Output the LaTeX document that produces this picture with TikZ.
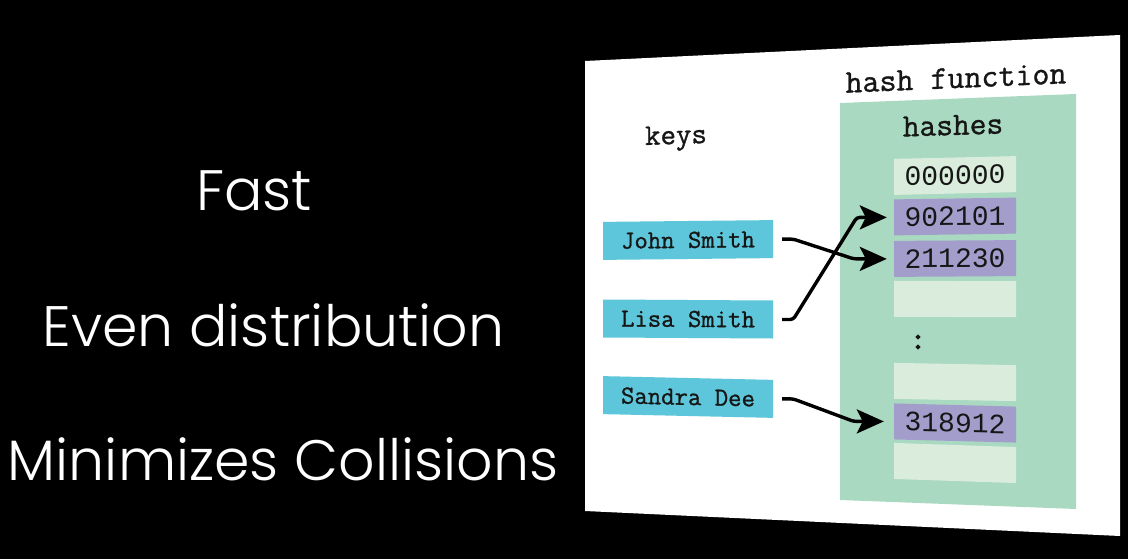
\documentclass[tikz,border=0pt]{standalone}
\usepackage{fontspec}
\usetikzlibrary{arrows.meta}
\newfontfamily\thinsans{Poppins Light}
\newfontfamily\typefont[FakeBold=1.0]{Latin Modern Mono}
\newfontfamily\dotfont[FakeBold=4]{Latin Modern Mono}
\newfontfamily\digitfont{Liberation Mono}

\definecolor{keycyan}{RGB}{94,198,218}
\definecolor{hashgreen}{RGB}{169,217,193}
\definecolor{slotlight}{RGB}{218,237,221}
\definecolor{slotpurple}{RGB}{163,157,204}
\definecolor{inkdark}{RGB}{22,22,22}

\begin{document}
\begin{tikzpicture}[x=1pt,y=-1pt,
  caption/.style={text=white,inner sep=0pt,anchor=base,
    font=\thinsans\fontsize{57}{57}\selectfont},
  keybox/.style={fill=keycyan,minimum width=170pt,minimum height=38pt,inner sep=0pt,
    text=inkdark,font=\typefont\fontsize{26}{26}\selectfont},
  slot/.style={fill=slotlight,minimum width=122pt,minimum height=36pt,inner sep=0pt,
    text=inkdark,font=\digitfont\fontsize{28}{28}\selectfont},
  used/.style={fill=slotpurple},
  heading/.style={inner sep=0pt,anchor=base,text=inkdark,
    font=\typefont\fontsize{#1}{#1}\selectfont},
  link/.style={draw=black,line width=3.4pt,rounded corners=3pt,
    -{Stealth[length=27pt,width=24pt,inset=6pt]}}]

\useasboundingbox (0,0) rectangle (1128,559);
\fill[black] (0,0) rectangle (1128,559);

% properties of a good hash function
\node[caption] (fast)  at (254,211)   {Fast};
\node[caption] (even)  at (273.5,346) {Even distribution};
\node[caption] (minim) at (283,480)   {Minimizes Collisions};

% tilted sheet with the hashing sketch
\fill[white] (585,61) -- (1120,35) -- (1120,536) -- (585,511) -- cycle;
\fill[hashgreen] (840,103) -- (1076,94) -- (1076,509) -- (840,500) -- cycle;

\node[heading=33,yslant=0.043] (hf)   at (956,88)  {hash function};
\node[heading=32.5,yslant=0.030] (hs) at (953,135) {hashes};
\node[heading=30,yslant=0.031] (keys) at (676,144) {keys};

% keys
\node[keybox,yslant=0.0105]  (john)   at (688,240) {John Smith};
\node[keybox,yslant=-0.0059] (lisa)   at (688,319) {Lisa Smith};
\node[keybox,yslant=-0.022]  (sandra) at (688,397) {Sandra Dee};

% hash slots
\node[slot,yslant=0.0227]       (s1) at (955,175.5) {000000};
\node[slot,used,yslant=0.0146]  (s2) at (955,216.5) {902101};
\node[slot,used,yslant=0.0064]  (s3) at (955,258.5) {211230};
\node[slot,yslant=-0.0017]      (s4) at (955,299)   {};
\node[inner sep=0pt,text=inkdark,font=\dotfont\fontsize{31}{31}\selectfont]
                                (dots) at (918,342) {:};
\node[slot,yslant=-0.018]       (s5) at (955,382)   {};
\node[slot,used,yslant=-0.0258] (s6) at (955,423)   {318912};
\node[slot,yslant=-0.0337]      (s7) at (955,463)   {};

% key -> hash
\draw[link] ([xshift=9pt]john.east) -- ++(11,0)
  -- ([xshift=-40pt]s3.west) -- ([xshift=-7pt]s3.west);
\draw[link] ([xshift=9pt]lisa.east) -- ++(11,0)
  -- ([xshift=-37pt]s2.west) -- ([xshift=-7pt]s2.west);
\draw[link] ([xshift=9pt]sandra.east) -- ++(11,0)
  -- ([xshift=-40pt]s6.west) -- ([xshift=-10pt]s6.west);
\end{tikzpicture}
\end{document}
